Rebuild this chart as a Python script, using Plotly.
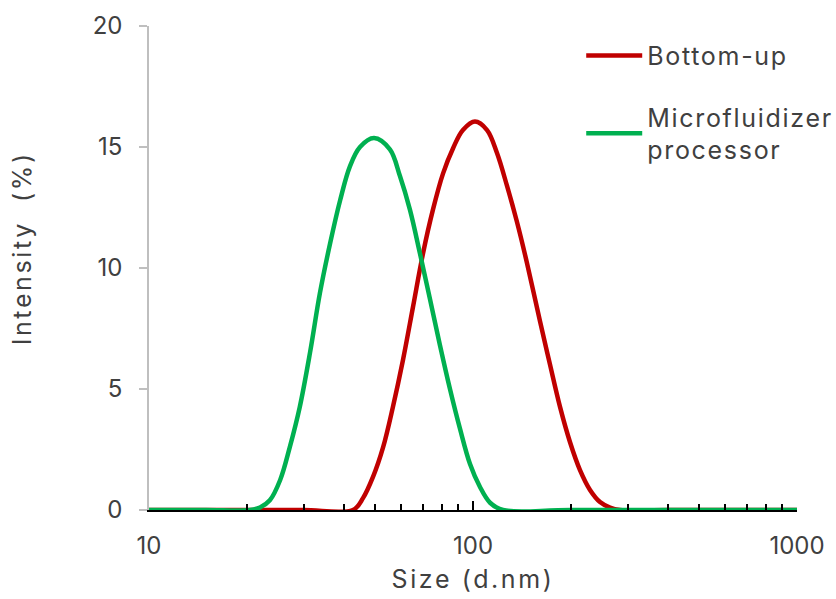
import plotly.graph_objects as go

# Size (d.nm) and intensity (%)
bottom_up_size = [10, 20, 30, 42.6, 45.8, 49.1, 52.8, 56.6, 60.8, 65.3, 70.1, 75.2, 80.8, 86.8,
                  93.1, 101.4, 110.5, 118.6, 127.3, 136.7, 146.8, 161.0, 172.9, 185.6, 199.3,
                  213.9, 229.7, 246.6, 264.8, 284.3, 400, 1000]
bottom_up_int = [0, 0, 0, 0, 0.5, 1.36, 2.6, 4.26, 6.2, 8.4, 10.6, 12.4, 13.9, 14.95,
                 15.7, 16.05, 15.7, 14.75, 13.4, 11.9, 10.2, 7.8, 6.0, 4.26, 2.8,
                 1.65, 0.83, 0.33, 0.1, 0, 0, 0]

micro_size = [10, 15, 20.5, 22.0, 23.6, 25.4, 27.2, 29.2, 31.4, 33.7, 36.2, 38.9, 41.7, 44.8,
              49.5, 55.4, 59.5, 63.9, 68.6, 73.7, 79.1, 84.9, 91.2, 97.9, 105.1, 112.9,
              123.8, 200, 1000]
micro_int = [0, 0, 0, 0.1, 0.4, 1.24, 2.6, 4.26, 6.5, 8.97, 11.0, 12.8, 14.2, 15.0,
             15.37, 14.9, 13.8, 12.4, 10.6, 8.7, 6.8, 5.0, 3.35, 1.9, 0.95, 0.3,
             0, 0, 0]

x_major = [10, 100, 1000]
x_minor = [20, 30, 40, 50, 60, 70, 80, 90, 200, 300, 400, 500, 600, 700, 800, 900]
y_ticks = [0, 5, 10, 15, 20]
y_title = "Intensity  (%)"
x_title = "Size (d.nm)"

FONT = "Inter"
TXT = "#404040"

fig = go.Figure()
fig.add_trace(go.Scatter(
    x=bottom_up_size, y=bottom_up_int, mode="lines", name="Bottom-up",
    line=dict(color="#C00000", width=4.5, shape="spline", smoothing=1.0),
    legendgroup="a"))
fig.add_trace(go.Scatter(
    x=micro_size, y=micro_int, mode="lines", name="Microfluidizer<br>processor",
    line=dict(color="#00B050", width=4.5, shape="spline", smoothing=1.0),
    legendgroup="b"))

fig.update_layout(
    width=836, height=599,
    margin=dict(l=149, r=39, t=26, b=89),
    paper_bgcolor="white", plot_bgcolor="white",
    font=dict(family=FONT, size=24, color=TXT),
    showlegend=True,
    legend=dict(x=0.667, y=0.986, xanchor="left", yanchor="top",
                font=dict(family=FONT, size=25, color=TXT),
                bgcolor="rgba(0,0,0,0)", tracegroupgap=26,
                traceorder="grouped", itemwidth=56),
    xaxis=dict(
        type="log", range=[1, 3], automargin=False,
        tickvals=x_major, ticktext=[str(v) for v in x_major],
        ticks="inside", ticklen=9, tickwidth=1.5, tickcolor="black",
        ticklabelstandoff=13,
        showline=True, linecolor="black", linewidth=1.5,
        showgrid=False, zeroline=False,
        minor=dict(tickvals=x_minor, ticks="inside", ticklen=6, tickwidth=1.5,
                   tickcolor="black", showgrid=False),
        tickfont=dict(family=FONT, size=24, color=TXT),
        title=dict(text=x_title, font=dict(family=FONT, size=25, color=TXT), standoff=12),
    ),
    yaxis=dict(
        range=[0, 20], tickvals=y_ticks, automargin=False,
        ticks="outside", ticklen=8, tickwidth=1.5, tickcolor="#BFBFBF",
        ticklabelstandoff=12,
        showline=True, linecolor="#BFBFBF", linewidth=1.5,
        showgrid=False, zeroline=False,
        tickfont=dict(family=FONT, size=24, color=TXT),
    ),
    annotations=[dict(text=y_title, xref="paper", yref="paper", x=-0.196, y=0.541,
                      xanchor="center", yanchor="middle", textangle=-90, showarrow=False,
                      font=dict(family=FONT, size=25, color=TXT))],
)

post_js = ("document.body.style.margin='0';"
           "var st=document.createElement('style');"
           "st.textContent='.xtitle,.ytitle,.annotation-text{letter-spacing:2.6px;}"
           ".legendtext{letter-spacing:1.7px;}"
           ".legend .scrollbox{clip-path:none !important;}';"
           "document.head.appendChild(st);"
           "var gd=document.getElementById('{plot_id}');"
           "Plotly.newPlot(gd, gd.data, gd.layout, {displayModeBar:false});")
fig.write_html("out.html", post_script=post_js, config={"displayModeBar": False})
